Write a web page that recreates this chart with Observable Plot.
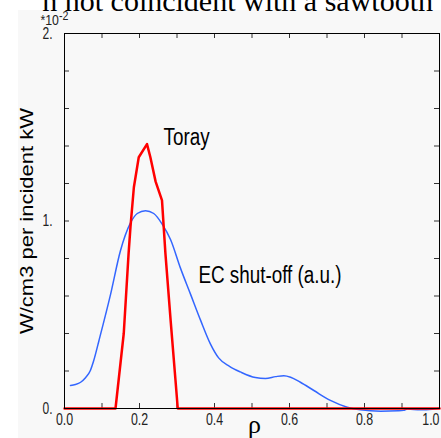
<!DOCTYPE html>
<html>
<head>
<meta charset="utf-8">
<script src="https://cdn.jsdelivr.net/npm/d3@7"></script>
<script src="https://cdn.jsdelivr.net/npm/@observablehq/plot@0.6"></script>
<style>
  html, body { margin: 0; padding: 0; background: #fff; }
  #wrap { position: relative; width: 441px; height: 438px; overflow: hidden; }
  #panel { position: absolute; left: 18px; top: 10px; right: 0; bottom: 0; background: #f8f8f8; }
  #topclip { position: absolute; left: 0; top: 0; width: 441px; height: 12px; overflow: hidden; }
  #toptext { position: absolute; right: 8px; top: -14px; font-family: "Liberation Serif", "Times New Roman", serif;
             font-size: 30px; line-height: 1; white-space: nowrap; color: #000; }
  #chart { position: absolute; left: 0; top: 0; }
</style>
</head>
<body>
<div id="wrap">
  <div id="panel"></div>
  <div id="chart"></div>
  <div id="topclip"><div id="toptext">n not coincident with a sawtooth</div></div>
</div>
<script>
// Toray deposition profile (units of 1e-2 W/cm3 per incident kW)
const torayRho = [0, 0.136, 0.158, 0.171, 0.176, 0.185, 0.198, 0.220, 0.229, 0.243, 0.260, 0.269, 0.283, 0.296, 0.302, 1.0];
const torayVal = [0, 0, 0.40, 0.83, 0.97, 1.18, 1.34, 1.41, 1.34, 1.21, 1.11, 0.83, 0.47, 0.15, 0, 0];

// EC shut-off response (a.u.)
const ecRho = [0.016, 0.029, 0.043, 0.056, 0.069, 0.078, 0.092, 0.123, 0.149, 0.176, 0.194, 0.216, 0.238, 0.260, 0.283, 0.309, 0.336, 0.363, 0.389, 0.411, 0.44, 0.469, 0.509, 0.536, 0.563, 0.585, 0.603, 0.629, 0.665, 0.709, 0.754, 0.789, 0.843, 0.89, 0.904, 0.914, 0.949, 0.98, 1.0];
const ecVal = [0.123, 0.128, 0.14, 0.164, 0.203, 0.256, 0.363, 0.61, 0.84, 0.99, 1.04, 1.055, 1.04, 0.985, 0.90, 0.75, 0.61, 0.47, 0.345, 0.27, 0.225, 0.195, 0.165, 0.16, 0.17, 0.175, 0.167, 0.14, 0.096, 0.043, 0.007, -0.007, -0.014, -0.012, -0.01, -0.003, -0.007, -0.004, 0.002];

const xTickLabels = [0, 0.2, 0.4, 0.6, 0.8];
const xLastLabel = [1.0];
const xMinorTicks = [0.1, 0.2, 0.3, 0.4, 0.5, 0.6, 0.7, 0.8, 0.9];
const yTickLabels = [0, 1, 2];
const yMinorTicks = [0.2, 0.4, 0.6, 0.8, 1.0, 1.2, 1.4, 1.6, 1.8];
const yLabel = "W/cm3 per incident kW";
const scaleText = "*10";
const scaleExp = "-2";
const xLabel = "ρ";
const torayLabel = "Toray";
const ecLabel = "EC shut-off (a.u.)";

const toray = torayRho.map((r, i) => ({rho: r, v: torayVal[i]}));
const ec = ecRho.map((r, i) => ({rho: r, v: ecVal[i]}));

const sans = "'Liberation Sans', Arial, Helvetica, sans-serif";
const plotW = 441 - 64 - 2;
const tickLen = 5;

const svg = Plot.plot({
  width: 441,
  height: 438,
  marginLeft: 64,
  marginRight: 2,
  marginTop: 33,
  marginBottom: 30,
  style: {background: "transparent", overflow: "visible", fontFamily: sans},
  x: {domain: [0, 1]},
  y: {domain: [0, 2]},
  marks: [
    Plot.ruleX(xMinorTicks, {x: d => d, insetTop: 375 - tickLen, stroke: "#333"}),
    Plot.ruleX(xMinorTicks, {x: d => d, insetBottom: 375 - tickLen, stroke: "#333"}),
    Plot.ruleY(yMinorTicks, {y: d => d, insetRight: plotW - tickLen, stroke: "#333"}),
    Plot.ruleY(yMinorTicks, {y: d => d, insetLeft: plotW - tickLen, stroke: "#333"}),
    Plot.line(ec, {x: "rho", y: "v", stroke: "#3366ff", strokeWidth: 1.5, curve: "monotone-x"}),
    Plot.line(toray, {x: "rho", y: "v", stroke: "#ff0000", strokeWidth: 2.5, curve: "linear"}),
    Plot.frame({stroke: "#000", strokeWidth: 1}),
    Plot.axisX({ticks: xTickLabels, tickSize: 0, tickPadding: 5, tickFormat: d3.format(".1f"),
      fontSize: 16.5, fill: "#222", label: null}),
    Plot.axisX({ticks: xLastLabel, tickSize: 0, tickPadding: 5, tickFormat: d3.format(".1f"),
      textAnchor: "end", fontSize: 16.5, fill: "#222", label: null}),
    Plot.axisY({ticks: yTickLabels, tickSize: 0, tickPadding: 12, tickFormat: d => d + ".",
      fontSize: 16, fill: "#222", label: null}),
    Plot.text([scaleText], {text: d => d, frameAnchor: "top-left", dx: -24, dy: -13, textAnchor: "start",
      lineAnchor: "middle", fontSize: 15, fill: "#222"}),
    Plot.text([yLabel], {text: d => d, frameAnchor: "left", dx: -37, rotate: -90, textAnchor: "middle",
      lineAnchor: "middle", fontSize: 22, fill: "#000"}),
    Plot.text([xLabel], {text: d => d, frameAnchor: "bottom", dx: 2.5, dy: 16, textAnchor: "middle",
      lineAnchor: "middle", fontSize: 26, fontFamily: "'Liberation Serif', serif", fill: "#000"}),
    Plot.text([torayLabel], {text: d => d, x: () => 0.264, y: () => 1.443, textAnchor: "start",
      fontSize: 23, fill: "#000"}),
    Plot.text([ecLabel], {text: d => d, x: () => 0.357, y: () => 0.706, textAnchor: "start",
      fontSize: 23, fill: "#000"})
  ]
});

document.getElementById("chart").appendChild(svg);

// superscript exponent of the y scale factor
d3.select(svg).selectAll("text").filter(function() { return this.textContent === scaleText; })
  .append("tspan").attr("dy", -5).attr("font-size", 13).text(scaleExp);

// The reference is horizontally squeezed: narrow horizontal text, thin rotated label.
const tickStrings = new Set([...xTickLabels, ...xLastLabel].map(d3.format(".1f")).concat(yTickLabels.map(d => d + ".")));
d3.select(svg).selectAll("text").each(function() {
  const s = this.textContent;
  const t = this.getAttribute("transform");
  if (s === yLabel) {
    this.setAttribute("transform", (t || "") + " scale(1,0.8)");
  } else if (s !== xLabel) {
    const k = tickStrings.has(s) ? 0.75 : 0.82;
    if (t) {
      this.setAttribute("transform", t + ` scale(${k},1)`);
    } else {
      const L = this.getComputedTextLength();
      this.setAttribute("textLength", (L * k).toFixed(2));
      this.setAttribute("lengthAdjust", "spacingAndGlyphs");
    }
  }
});
</script>
</body>
</html>
